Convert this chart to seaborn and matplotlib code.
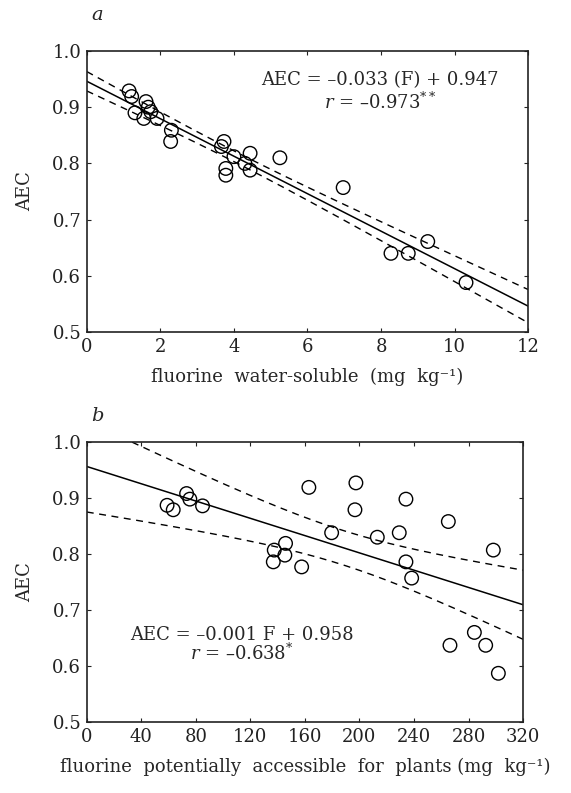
import numpy as np
import pandas as pd
import matplotlib
matplotlib.use("Agg")
import matplotlib.pyplot as plt
import seaborn as sns

# panel a: water-soluble fluorine vs AEC
fw_a = [1.15, 1.22, 1.31, 1.61, 1.67, 1.55, 1.74, 1.91, 2.30, 2.28, 3.73, 3.66,
        4.00, 4.44, 4.30, 4.44, 3.78, 3.78, 5.25, 6.97, 9.27, 8.27, 8.74, 10.31]
aec_a = [0.929, 0.919, 0.890, 0.910, 0.900, 0.880, 0.892, 0.880, 0.859, 0.839, 0.839, 0.830,
         0.812, 0.818, 0.800, 0.788, 0.791, 0.779, 0.810, 0.757, 0.661, 0.640, 0.640, 0.588]

# panel b: fluorine potentially accessible for plants vs AEC
fp_b = [58.9, 63.4, 73.2, 75.6, 84.9, 162.9, 137.5, 145.8, 145.3, 136.8, 157.6, 197.4, 196.7,
        234.1, 179.6, 213.1, 229.2, 265.2, 298.2, 234.1, 238.3, 284.3, 266.4, 292.6, 301.9]
aec_b = [0.887, 0.879, 0.908, 0.898, 0.886, 0.919, 0.807, 0.819, 0.798, 0.786, 0.777, 0.927, 0.879,
         0.898, 0.838, 0.830, 0.838, 0.858, 0.807, 0.786, 0.757, 0.660, 0.637, 0.637, 0.587]

eq_a = ["AEC = –0.033 (F) + 0.947", "$r$ = –0.973$^{**}$"]
eq_b = ["AEC = –0.001 F + 0.958", "$r$ = –0.638$^{*}$"]

sns.set_style("ticks")
plt.rcParams["font.family"] = ["DejaVu Serif"]
plt.rcParams["mathtext.fontset"] = "dejavuserif"
plt.rcParams["font.size"] = 12.5


def conf_band(x, y, grid, t=2.07):
    # 95% confidence band of the fitted mean
    x = np.asarray(x)
    y = np.asarray(y)
    b, a = np.polyfit(x, y, 1)
    n = len(x)
    res = y - (a + b * x)
    s = np.sqrt(np.sum(res ** 2) / (n - 2))
    sxx = np.sum((x - x.mean()) ** 2)
    fit = a + b * grid
    half = t * s * np.sqrt(1 / n + (grid - x.mean()) ** 2 / sxx)
    return fit - half, fit + half


def panel(ax, x, y, xlim, xticks, xlabel, letter, letter_y, eq, eq_pos, eq_gap):
    df = pd.DataFrame({"F": x, "AEC": y})
    ax.set_xlim(*xlim)
    ax.set_ylim(0.5, 1.0)
    sns.regplot(data=df, x="F", y="AEC", ax=ax, scatter=False, ci=None,
                truncate=False, color="black", line_kws={"lw": 1.1})
    grid = np.linspace(xlim[0], xlim[1], 200)
    lo, hi = conf_band(x, y, grid)
    for band in (lo, hi):
        ax.plot(grid, band, color="black", lw=1.0, ls=(0, (5, 4)))
    sns.scatterplot(data=df, x="F", y="AEC", ax=ax, s=95, facecolor="none",
                    edgecolor="black", linewidth=1.0, zorder=3)
    ax.set_xlim(*xlim)
    ax.set_ylim(0.5, 1.0)
    ax.set_xticks(xticks)
    ax.set_yticks([0.5, 0.6, 0.7, 0.8, 0.9, 1.0])
    ax.set_yticklabels(["0.5", "0.6", "0.7", "0.8", "0.9", "1.0"])
    ax.tick_params(direction="in", top=True, right=True, length=3, width=0.8,
                   labelsize=13, pad=4, colors="#222222")
    for sp in ax.spines.values():
        sp.set_linewidth(1.2)
        sp.set_color("#222222")
    ax.set_xlabel(xlabel, fontsize=13, labelpad=9)
    ax.set_ylabel("AEC", fontsize=13, labelpad=13)
    ax.text(0.01, letter_y, letter, transform=ax.transAxes, style="italic",
            fontsize=14, ha="left", va="bottom")
    ax.text(eq_pos[0], eq_pos[1], eq[0], ha="center", va="center", fontsize=13)
    ax.text(eq_pos[0], eq_pos[1] - eq_gap, eq[1], ha="center", va="center", fontsize=13)


fig = plt.figure(figsize=(5.71, 7.93), dpi=100)
ax_a = fig.add_axes([0.152, 0.5813, 0.773, 0.3544])
ax_b = fig.add_axes([0.152, 0.0895, 0.764, 0.3531])

panel(ax_a, fw_a, aec_a, (0, 12), range(0, 13, 2),
      "fluorine  water-soluble  (mg  kg⁻¹)", "a", 1.095, eq_a, (7.97, 0.948), 0.039)
panel(ax_b, fp_b, aec_b, (0, 320), range(0, 321, 40),
      "fluorine  potentially  accessible  for  plants (mg  kg⁻¹)", "b", 1.06, eq_b,
      (113.8, 0.655), 0.032)

fig.savefig("out.png", dpi=100, facecolor="white")
